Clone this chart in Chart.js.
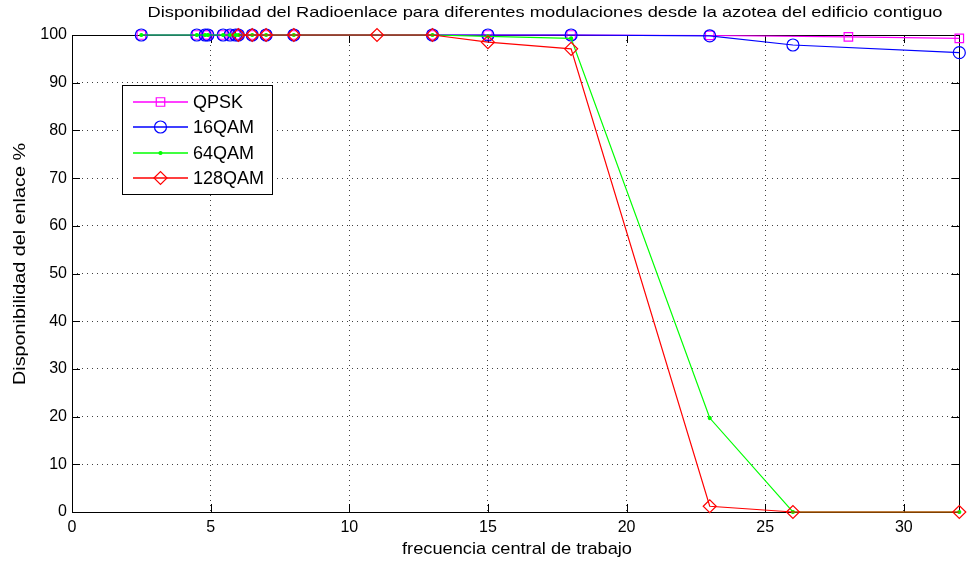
<!DOCTYPE html>
<html>
<head>
<meta charset="utf-8">
<script src="https://cdn.jsdelivr.net/npm/chart.js@4/dist/chart.umd.min.js"></script>
<style>
  html, body { margin: 0; padding: 0; background: #fff; }
  canvas { display: block; }
</style>
</head>
<body>
<canvas id="chartDisp" width="967" height="563"></canvas>
<script>
// ===== Data =====
const seriesNames = ['QPSK', '16QAM', '64QAM', '128QAM'];

const freqQpsk = [2.5, 4.5, 4.8, 4.9, 5.45, 5.7, 5.9, 6, 6.5, 7, 8, 13, 15, 18, 23, 28, 32];
const dispQpsk = [100, 100, 100, 100, 100, 100, 100, 100, 100, 100, 100, 100, 100, 100, 99.9, 99.6, 99.3];

const freq16 = [2.5, 4.5, 4.8, 4.9, 5.45, 5.7, 5.9, 6, 6.5, 7, 8, 13, 15, 18, 23, 26, 32];
const disp16 = [100, 100, 100, 100, 100, 100, 100, 100, 100, 100, 100, 100, 100, 100, 99.8, 97.9, 96.3];

const freq64 = [2.5, 4.5, 4.8, 4.9, 5.45, 5.7, 5.9, 6, 6.5, 7, 8, 13, 15, 18, 23, 26, 32];
const disp64 = [100, 100, 100, 100, 100, 100, 100, 100, 100, 100, 100, 100, 99.7, 99.3, 19.7, 0, 0];

const freq128 = [6, 6.5, 7, 8, 11, 13, 15, 18, 23, 26, 32];
const disp128 = [100, 100, 100, 100, 100, 100, 98.5, 97.1, 1.2, 0, 0];

const xTicks = [0, 5, 10, 15, 20, 25, 30];
const yTicks = [0, 10, 20, 30, 40, 50, 60, 70, 80, 90, 100];

const fontFamily = "'Liberation Sans', Arial, Helvetica, sans-serif";

function toPoints(xs, ys) {
  return xs.map((x, i) => ({ x: x, y: ys[i] }));
}

// text squeezed/stretched to a given width (figure fonts are wide)
function wideText(ctx, text, x, y, size, width, angle) {
  ctx.save();
  ctx.font = size + 'px ' + fontFamily;
  const w = ctx.measureText(text).width;
  ctx.translate(x, y);
  if (angle) ctx.rotate(angle);
  ctx.scale(width / w, 1);
  ctx.textAlign = 'center';
  ctx.textBaseline = 'middle';
  ctx.fillStyle = '#000';
  ctx.fillText(text, 0, 0);
  ctx.restore();
}

// ===== Chart title, axis labels, box with inward ticks, legend =====
const matlabFrame = {
  id: 'matlabFrame',
  beforeDatasetsDraw(chart) {
    const { ctx, chartArea: a, scales } = chart;
    ctx.save();
    ctx.strokeStyle = '#000';
    ctx.lineWidth = 1;
    ctx.strokeRect(Math.round(a.left) + 0.5, Math.round(a.top) + 0.5,
                   Math.round(a.right - a.left), Math.round(a.bottom - a.top));
    const tl = 8;
    ctx.beginPath();
    xTicks.forEach(v => {
      const px = Math.round(scales.x.getPixelForValue(v)) + 0.5;
      ctx.moveTo(px, a.bottom); ctx.lineTo(px, a.bottom - tl);
      ctx.moveTo(px, a.top);    ctx.lineTo(px, a.top + tl);
    });
    yTicks.forEach(v => {
      const py = Math.round(scales.y.getPixelForValue(v)) + 0.5;
      ctx.moveTo(a.left, py);  ctx.lineTo(a.left + tl, py);
      ctx.moveTo(a.right, py); ctx.lineTo(a.right - tl, py);
    });
    ctx.stroke();
    ctx.restore();
  },
  afterDraw(chart) {
    const { ctx } = chart;
    wideText(ctx, 'Disponibilidad del Radioenlace para diferentes modulaciones desde la azotea del edificio contiguo',
             545, 13, 15, 795, 0);
    wideText(ctx, 'frecuencia central de trabajo', 517, 549, 17, 230, 0);
    wideText(ctx, 'Disponibilidad del enlace %', 20, 264, 17, 242, -Math.PI / 2);

    // legend
    const bx = 122, by = 85, bw = 150, bh = 109;
    ctx.save();
    ctx.fillStyle = '#fff';
    ctx.fillRect(bx, by, bw, bh);
    ctx.strokeStyle = '#000';
    ctx.lineWidth = 1;
    ctx.strokeRect(bx + 0.5, by + 0.5, bw, bh);
    chart.data.datasets.forEach((ds, i) => {
      const y = Math.round(by + 17 + i * 25.3);
      ctx.save();
      ctx.strokeStyle = ds.borderColor;
      ctx.lineWidth = 1.4;
      ctx.beginPath();
      ctx.moveTo(bx + 11, y);
      ctx.lineTo(bx + 66, y);
      ctx.stroke();
      ctx.restore();
      ctx.save();
      ctx.fillStyle = ds.pointBackgroundColor;
      ctx.strokeStyle = ds.pointBorderColor;
      ctx.lineWidth = 1.2;
      Chart.helpers.drawPoint(ctx, {
        pointStyle: ds.pointStyle,
        radius: ds.pointRadius,
        rotation: 0,
        borderWidth: 1.2
      }, bx + 38.5, y);
      ctx.restore();
      ctx.fillStyle = '#000';
      ctx.font = '18px ' + fontFamily;
      ctx.textAlign = 'left';
      ctx.textBaseline = 'middle';
      ctx.fillText(ds.label, bx + 71, y + 1);
    });
    ctx.restore();
  }
};

const ctxDisp = document.getElementById('chartDisp').getContext('2d');

function makeSet(label, xs, ys, color, style, radius, fill, order) {
  return {
    label: label,
    data: toPoints(xs, ys),
    borderColor: color,
    borderWidth: 1.2,
    pointStyle: style,
    pointRadius: radius,
    pointBorderColor: color,
    pointBackgroundColor: fill,
    pointBorderWidth: 1.2,
    pointHoverRadius: radius,
    tension: 0,
    clip: false,
    order: order
  };
}

const gridColor = max => c => (c.tick && (c.tick.value === 0 || c.tick.value === max)) ? 'rgba(0,0,0,0)' : 'rgba(0,0,0,0.75)';

const chartDisp = new Chart(ctxDisp, {
  type: 'line',
  data: {
    datasets: [
      makeSet(seriesNames[0], freqQpsk, dispQpsk, '#ff00ff', 'rect', 6, 'rgba(0,0,0,0)', 4),
      makeSet(seriesNames[1], freq16, disp16, '#0000ff', 'circle', 6, 'rgba(0,0,0,0)', 3),
      makeSet(seriesNames[2], freq64, disp64, '#00ff00', 'circle', 1.5, '#00ff00', 2),
      makeSet(seriesNames[3], freq128, disp128, '#ff0000', 'rectRot', 6.5, 'rgba(0,0,0,0)', 1),
    ]
  },
  options: {
    responsive: false,
    animation: false,
    layout: { padding: { top: 35, right: 2, left: 0, bottom: 0 } },
    plugins: {
      legend: { display: false },
      tooltip: { enabled: false },
      title: { display: false }
    },
    scales: {
      x: {
        type: 'linear',
        min: 0,
        max: 32,
        afterFit: s => { s.height = 51; },
        afterBuildTicks: s => { s.ticks = xTicks.map(v => ({ value: v })); },
        border: { display: false, dash: [1, 4] },
        grid: { drawTicks: false, color: gridColor(32), lineWidth: 1 },
        ticks: {
          padding: 6,
          color: '#000',
          maxRotation: 0,
          font: { family: fontFamily, size: 16 }
        }
      },
      y: {
        type: 'linear',
        min: 0,
        max: 100,
        afterFit: s => { s.width = 72; },
        afterBuildTicks: s => { s.ticks = yTicks.map(v => ({ value: v })); },
        border: { display: false, dash: [1, 4] },
        grid: { drawTicks: false, color: gridColor(100), lineWidth: 1 },
        ticks: {
          padding: 5,
          color: '#000',
          font: { family: fontFamily, size: 16 }
        }
      }
    }
  },
  plugins: [matlabFrame]
});
</script>
</body>
</html>
